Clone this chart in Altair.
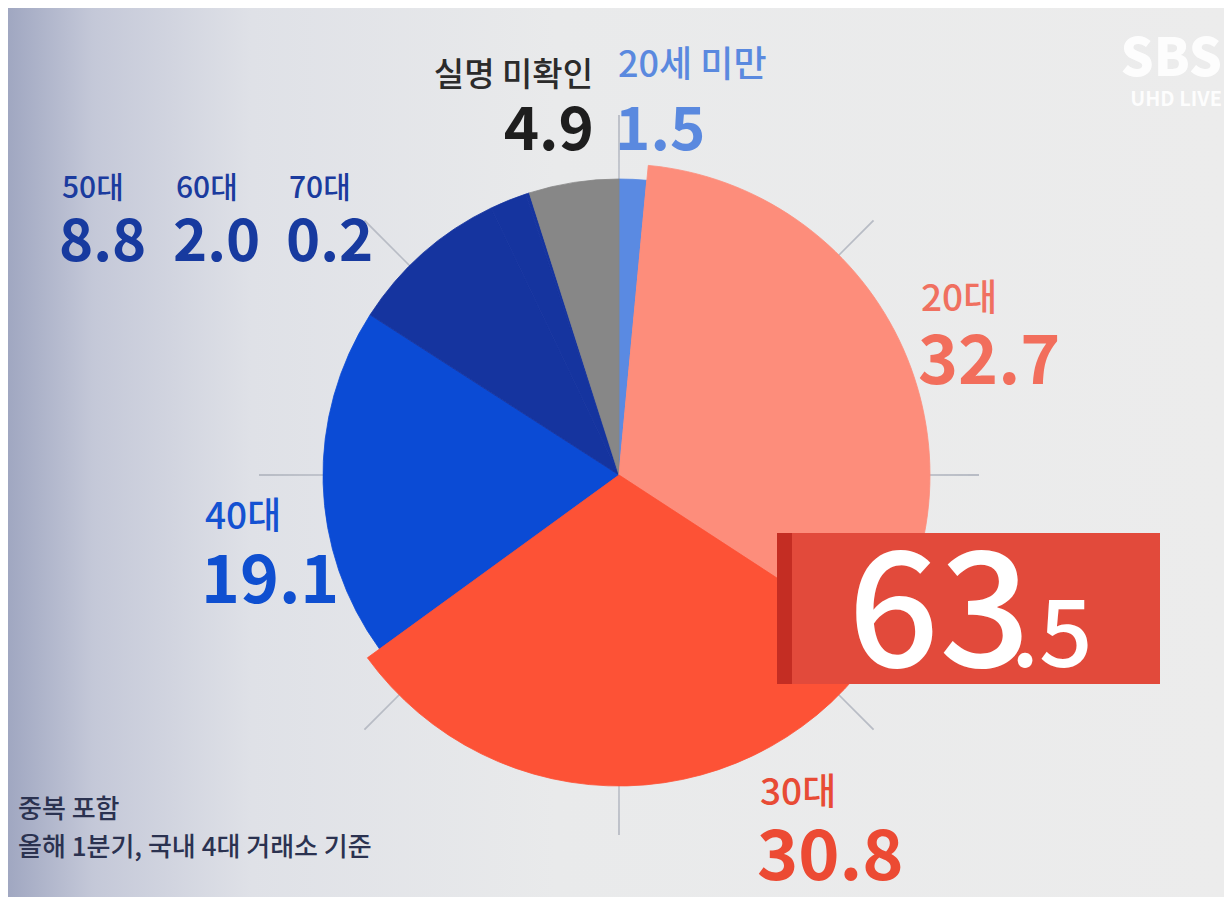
import altair as alt
import pandas as pd

# ---- data ----
categories = ["20세 미만", "20대", "30대", "40대", "50대", "60대", "70대", "실명 미확인"]
shares = [1.5, 32.7, 30.8, 19.1, 8.8, 2.0, 0.2, 4.9]
slice_colors = ["#5a8ae2", "#fd8d7b", "#fd5236", "#0b4bd5", "#15349f", "#15349f", "#15349f", "#878787"]
highlight = ["20대", "30대"]
highlight_total = 63.5
notes = ["중복 포함", "올해 1분기, 국내 4대 거래소 기준"]

# ---- layout ----
FONT = "Noto Sans CJK KR"
W, H = 1216, 889
OFF = 8  # page margin
CX, CY = 619 - OFF, 475 - OFF
R_BASE, R_HOT = 296, 311

pie_df = pd.DataFrame({
    "cat": categories,
    "share": shares,
    "ord": list(range(len(categories))),
    "hot": [1 if c in highlight else 0 for c in categories],
})

one = pd.DataFrame({"a": [0]})

background = alt.Chart(one).mark_rect(
    color=alt.LinearGradient(
        gradient="linear",
        stops=[
            alt.GradientStop(color="#a0a7c1", offset=0),
            alt.GradientStop(color="#c4c8d8", offset=0.07),
            alt.GradientStop(color="#dfe1e7", offset=0.2),
            alt.GradientStop(color="#e9eaeb", offset=0.45),
            alt.GradientStop(color="#ececec", offset=1),
        ],
        x1=0, x2=1, y1=0, y2=0,
    )
).encode(x=alt.value(0), x2=alt.value(W), y=alt.value(0), y2=alt.value(H))

ticks = alt.Chart(pd.DataFrame({"k": list(range(8))})).transform_calculate(
    t0="datum.k * PI / 4 - 0.0025", t1="datum.k * PI / 4 + 0.0025"
).mark_arc(color="#b8bcc5").encode(
    theta=alt.Theta("t0:Q", scale=None),
    theta2="t1:Q",
    radius=alt.value(360),
    radius2=alt.value(280),
    x=alt.value(CX),
    y=alt.value(CY),
)

pie_scale = alt.Scale(domain=categories, range=slice_colors)
pie_color = alt.Color("cat:N", scale=pie_scale, legend=None)
pie_stroke = alt.Stroke("cat:N", scale=pie_scale, legend=None)

pie_base = alt.Chart(pie_df).mark_arc(strokeWidth=0.8).encode(
    theta=alt.Theta("share:Q", stack=True),
    order=alt.Order("ord:Q"),
    color=pie_color,
    stroke=pie_stroke,
    radius=alt.value(R_BASE),
    x=alt.value(CX),
    y=alt.value(CY),
)

pie_hot = alt.Chart(pie_df).mark_arc(strokeWidth=0.8).encode(
    theta=alt.Theta("share:Q", stack=True),
    order=alt.Order("ord:Q"),
    color=pie_color,
    stroke=pie_stroke,
    opacity=alt.condition(alt.datum.hot == 1, alt.value(1), alt.value(0)),
    radius=alt.value(R_HOT),
    x=alt.value(CX),
    y=alt.value(CY),
)

banner = alt.Chart(one).mark_rect(color="#e24a3b").encode(
    x=alt.value(777 - OFF), x2=alt.value(1160 - OFF),
    y=alt.value(533 - OFF), y2=alt.value(684 - OFF),
)
banner_edge = alt.Chart(one).mark_rect(color="#c42d23").encode(
    x=alt.value(777 - OFF), x2=alt.value(792 - OFF),
    y=alt.value(533 - OFF), y2=alt.value(684 - OFF),
)


def label(text, x, y, size, color, weight="normal", align="left", opacity=1.0):
    return alt.Chart(pd.DataFrame({"t": [text]})).mark_text(
        align=align, baseline="alphabetic", fontSize=size, font=FONT,
        fontWeight=weight, color=color, opacity=opacity,
    ).encode(text="t:N", x=alt.value(x - OFF), y=alt.value(y - OFF))


def val(cat):
    return f"{shares[categories.index(cat)]:.1f}"


whole, frac = f"{highlight_total:.1f}".split(".")

texts = [
    label(categories[7], 593, 86, 33, "#2b2b2b", 500, "right"),
    label(val(categories[7]), 594, 150, 60, "#1e1e1e", "bold", "right"),
    label(categories[0], 618, 77, 36, "#5a89df", 500),
    label(val(categories[0]), 615, 150, 60, "#5a89df", "bold"),
    label(categories[4], 62, 198, 30, "#1b3b9e", 500),
    label(val(categories[4]), 59, 261, 58, "#173a9f", "bold"),
    label(categories[5], 176, 198, 30, "#1b3b9e", 500),
    label(val(categories[5]), 173, 261, 58, "#173a9f", "bold"),
    label(categories[6], 289, 198, 30, "#1b3b9e", 500),
    label(val(categories[6]), 286, 261, 58, "#173a9f", "bold"),
    label(categories[3], 205, 529, 37, "#1452d2", 500),
    label(val(categories[3]), 201, 603, 66, "#0f4fd0", "bold"),
    label(categories[1], 921, 311, 37, "#f07060", 500),
    label(val(categories[1]), 918, 384, 68, "#f26e5c", "bold"),
    label(categories[2], 760, 805, 37, "#e84b35", 500),
    label(val(categories[2]), 757, 880, 70, "#ec4a33", "bold"),
    label(whole, 848, 667, 160, "#ffffff", 500),
    label("." + frac, 1011, 667, 94, "#ffffff", 500),
    label(notes[0], 18, 818, 26, "#2b3250", 500),
    label(notes[1], 18, 856, 26, "#2b3250", 500),
    label("SBS", 1222, 76, 52, "#ffffff", 900, "right", 0.9),
    label("UHD LIVE", 1222, 106, 20, "#ffffff", "bold", "right", 0.9),
]

chart = alt.layer(background, ticks, pie_base, pie_hot, banner, banner_edge, *texts).properties(
    width=W, height=H,
    autosize=alt.AutoSizeParams(type="none"),
    padding=0,
    background="#ebebeb",
).configure_view(stroke=None)

chart.save("out.html", embed_options={"renderer": "svg", "actions": False})
